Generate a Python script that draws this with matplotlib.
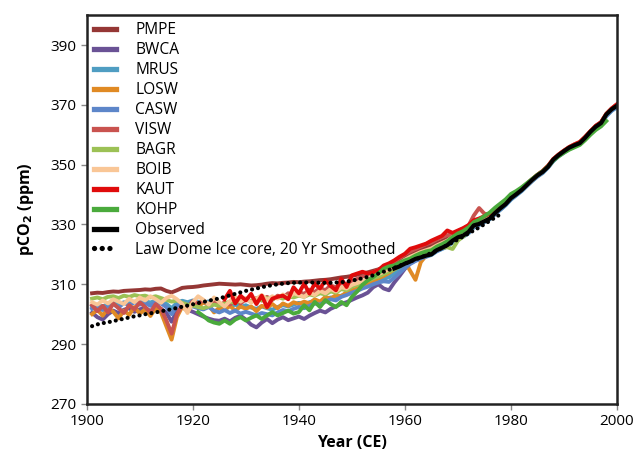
import numpy as np
import matplotlib
matplotlib.use("Agg")
import matplotlib.pyplot as plt

plt.rcParams['font.family'] = ['Open Sans', 'DejaVu Sans']

years = list(range(1901, 2001))
nan = float('nan')

PMPE = [307.0, 307.2, 307.1, 307.4, 307.6, 307.5, 307.8, 307.9, 308.0, 308.1,
        308.3, 308.2, 308.5, 308.6, 307.8, 307.3, 308.0, 308.8, 309.0, 309.1,
        309.3, 309.6, 309.8, 310.0, 310.2, 310.1, 310.0, 309.9, 310.0, 309.8,
        309.6, 309.7, 309.9, 310.2, 310.4, 310.3, 310.5, 310.6, 310.8, 310.7,
        310.9, 311.0, 311.2, 311.4, 311.5, 311.7, 312.0, 312.3, 312.5, 312.8,
        313.2, 313.6, 314.0, 314.5, 315.0, 315.7, 316.5, 317.3, 318.2, 319.0,
        320.0, 320.8, 321.5, 322.3, 323.0, 323.8, 324.5, 325.3, 326.5, 327.4,
        328.2, 329.1, 330.4, 331.2, 332.1, 333.0, 334.4, 335.8, 337.2, 338.9,
        340.3, 341.6, 343.2, 344.8, 346.3, 347.7, 349.4, 351.5, 353.1, 354.4,
        355.6, 356.6, 357.4, 359.1, 360.9, 362.8, 364.0, 366.6, 368.4, 370.0]

BWCA = [300.5, 299.0, 298.2, 300.0, 301.2, 300.4, 301.5, 302.0, 300.8, 301.6,
        302.2, 301.0, 302.5, 301.8, 300.5, 297.5, 301.0, 302.3, 301.5, 300.8,
        300.0, 299.2, 298.5, 298.0, 297.8, 298.5, 297.6, 298.8, 299.5, 298.2,
        296.5, 295.6, 297.2, 298.4, 297.0, 298.2, 299.0, 298.0, 298.6, 299.2,
        298.4, 299.5, 300.4, 301.2, 300.6, 301.8, 302.6, 303.5, 304.0, 304.8,
        305.6, 306.3, 307.2, 309.0, 310.0, 308.6, 308.0, 310.6, 312.8, 315.2,
        317.0, 318.0, 318.8, 319.5, 320.2, 321.3, 322.0, 323.0, 324.2, 325.3,
        326.2, 327.4, 329.2, 330.0, 331.0, 332.0, 333.6, 335.0, 336.6, 338.5,
        340.0, 341.4, 343.0, 344.6, 346.2, 347.5, 349.2, 351.4, 353.0, 354.3,
        355.5, 356.4, 357.2, 358.8, 360.8, 362.5, 363.8, 366.5, 368.3, 369.6]

MRUS = [302.5, 303.0, 302.6, 303.4, 303.8, 303.2, 304.0, 303.6, 304.2, 303.8,
        304.4, 303.9, 304.6, 304.2, 303.5, 302.0, 303.8, 304.5, 304.0, 304.6,
        304.2, 303.8, 304.3, 303.6, 302.8, 303.5, 302.6, 303.2, 302.4, 303.0,
        302.2, 301.8, 302.6, 302.0, 301.5, 302.4, 303.0, 302.6, 303.2, 303.8,
        303.2, 304.0, 304.5, 304.0, 305.0, 305.6, 305.2, 306.2, 306.8, 307.5,
        308.2, 309.0, 309.6, 310.4, 311.0, 311.8, 312.4, 313.6, 314.8, 316.0,
        317.2, 318.0, 318.6, 319.2, 319.8, 321.0, 321.8, 322.6, 324.0, 325.0,
        325.9, 327.0, 329.0, 329.8, 330.8, 331.7, 333.4, 334.9, 336.4, 338.3,
        339.7, 341.1, 342.8, 344.5, 346.0, 347.2, 349.0, 351.2, 352.8, 354.0,
        355.2, 356.1, 356.9, 358.6, 360.5, 362.2, 363.4, 366.2, 368.0, 369.2]

LOSW = [300.0, 301.5, 299.5, 302.0, 300.8, 298.6, 301.2, 299.8, 302.4, 300.2,
        301.6, 299.4, 302.0, 300.6, 296.0, 291.5, 299.0, 302.5, 301.0, 303.2,
        302.4, 304.0, 303.0, 300.6, 302.2, 301.4, 302.8, 301.2, 302.6, 301.8,
        302.6, 301.0, 302.8, 302.2, 303.4, 302.0, 303.6, 302.8, 304.0, 303.4,
        304.2, 303.6, 305.0, 304.2, 305.8, 305.2, 306.4, 306.0, 307.4, 308.0,
        308.6, 309.4, 310.2, 311.0, 312.0, 312.8, 313.8, 315.0, 316.4, 317.6,
        314.5, 311.5, 317.4, 319.6, 320.4, 321.6, 322.4, 323.4, 324.8, 325.8,
        326.6, 327.8, 329.8, 330.4, 331.4, 332.3, 334.0, 335.6, 337.0, 338.8,
        340.2, 341.5, 343.1, 344.8, 346.3, 347.6, 349.3, 351.6, 353.1, 354.4,
        355.6, 356.5, 357.3, 359.0, 360.9, 362.7, 363.9, 366.8, 368.5, 369.8]

CASW = [301.8, 302.6, 301.4, 302.8, 303.4, 302.2, 303.8, 303.0, 304.0, 303.2,
        303.8, 302.8, 304.2, 303.6, 302.4, 300.0, 302.8, 303.8, 303.2, 302.6,
        302.0, 301.6, 302.4, 301.2, 300.6, 301.4, 300.4, 301.2, 300.2, 300.8,
        300.2, 299.6, 300.4, 300.0, 299.6, 300.6, 301.4, 301.0, 301.8, 302.4,
        302.0, 302.8, 303.6, 303.2, 304.2, 305.0, 304.6, 305.8, 306.4, 307.2,
        307.8, 308.6, 309.2, 310.0, 310.6, 311.0, 310.8, 312.2, 313.8, 315.4,
        316.8, 317.8, 318.6, 319.3, 320.0, 321.1, 321.9, 322.8, 324.3, 325.3,
        326.1, 327.2, 329.3, 330.0, 331.0, 331.9, 333.6, 335.1, 336.6, 338.5,
        339.9, 341.3, 343.0, 344.7, 346.1, 347.4, 349.1, 351.4, 353.0, 354.2,
        355.4, 356.3, 357.0, 358.8, 360.7, 362.4, 363.6, 366.4, 368.1, 369.4]

VISW = [303.0, 301.0, 302.8, 300.6, 303.6, 302.0, 300.4, 303.0, 301.6, 304.0,
        302.4, 300.6, 303.4, 301.8, 298.0, 293.5, 300.0, 303.0, 302.2, 304.4,
        303.6, 304.6, 303.0, 304.2, 302.8, 304.0, 303.2, 304.8, 303.6, 305.0,
        304.2, 305.4, 304.6, 305.8, 304.8, 306.2, 305.6, 307.0, 306.4, 307.4,
        306.8, 308.2, 307.4, 308.8, 308.0, 309.6, 309.0, 310.4, 310.0, 311.2,
        311.8, 312.6, 313.4, 314.0, 314.8, 315.6, 316.6, 317.6, 318.8, 320.0,
        321.0, 321.8, 322.6, 323.4, 324.0, 325.0, 325.8, 326.4, 326.8, 327.8,
        328.6, 329.6, 333.0, 335.5, 333.6, 333.4, 335.0, 336.4, 337.8, 339.5,
        340.8, 342.0, 343.6, 345.2, 346.6, 347.9, 349.6, 351.9, 353.4, 354.7,
        355.9, 356.8, 357.6, 359.3, 361.2, 363.0, 364.2, 367.0, 368.8, 370.2]

BAGR = [305.2, 305.6, 305.0, 305.8, 306.0, 305.4, 306.2, 305.8, 306.4, 306.0,
        306.2, 305.6, 306.0, 305.4, 304.8, 304.2, 304.6, 303.8, 303.2, 302.8,
        302.4, 302.0, 302.6, 303.2, 302.8, 303.6, 304.2, 303.8, 304.6, 305.0,
        304.4, 305.2, 304.6, 305.4, 305.0, 305.8, 305.2, 306.0, 305.6, 306.2,
        305.8, 306.6, 306.2, 307.0, 306.6, 307.6, 307.2, 308.4, 308.0, 309.2,
        309.8, 310.6, 311.2, 312.0, 312.6, 313.4, 314.2, 315.0, 316.0, 317.0,
        318.0, 318.8, 319.4, 320.0, 320.4, 321.6, 322.2, 322.4, 321.8, 324.6,
        326.0, 327.6, 329.6, 330.6, 331.6, 332.6, 334.0, 335.6, 337.2, 339.0,
        340.4, 341.8, 343.4, 345.0, 346.6, 347.8, 349.5, 351.8, 353.3, 354.6,
        355.8, 356.7, 357.5, 359.2, 361.1, 362.9, 364.1, 367.0, 368.7, 370.0]

BOIB = [304.0, 303.2, 304.6, 303.6, 305.0, 304.2, 303.4, 305.2, 304.0, 305.6,
        304.6, 306.0, 305.0, 303.8, 305.4, 306.2, 305.0, 303.4, 300.4, 304.0,
        306.0, 304.8, 303.2, 305.6, 304.0, 302.6, 304.4, 305.8, 304.2, 305.4,
        303.8, 305.2, 306.4, 304.8, 306.0, 305.2, 306.6, 305.4, 307.0, 306.4,
        305.8, 307.2, 306.4, 307.8, 307.0, 308.4, 307.6, 309.0, 308.6, 309.8,
        310.4, 311.2, 311.8, 312.6, 313.4, 314.2, 315.0, 316.0, 317.0, 318.2,
        319.2, 320.0, 320.8, 321.4, 322.0, 323.0, 323.8, 324.6, 325.8, 326.8,
        327.6, 328.6, 330.6, 331.2, 332.2, 333.0, 334.6, 336.0, 337.4, 339.2,
        340.5, 341.8, 343.4, 345.0, 346.5, 347.8, 349.5, 351.8, 353.3, 354.6,
        355.8, 356.7, 357.4, 359.2, 361.0, 362.8, 364.0, 366.9, 368.6, 370.1]

KAUT = [nan] * 25 + [
        305.0, 307.8, 303.6, 306.2, 304.6,
        306.8, 303.4, 306.2, 302.4, 305.2, 305.8, 306.2, 305.0, 309.0, 307.0,
        310.2, 306.9, 310.2, 308.6, 311.3, 309.4, 308.0, 311.9, 309.1, 313.0,
        313.6, 314.2, 313.6, 314.0, 314.7, 316.3, 317.0, 318.0, 319.2, 320.2,
        321.9, 322.4, 323.0, 323.6, 324.6, 325.4, 326.2, 328.0, 327.2, 328.0,
        328.8, 329.8, 331.4, 332.0, 332.8, 333.6, 335.0, 336.4, 337.8, 339.4,
        340.6, 341.9, 343.5, 345.1, 346.6, 347.9, 349.6, 351.9, 353.4, 354.7,
        355.9, 356.8, 357.6, 359.3, 361.2, 363.0, 364.2, 367.0, 368.8, 370.2]

KOHP = [nan] * 20 + [
        300.7, 299.4, 297.9, 297.2, 296.8, 297.9, 296.8, 298.2, 299.0, 297.9,
        298.8, 299.6, 298.4, 299.6, 300.7, 299.6, 300.4, 301.2, 300.2, 300.7,
        303.0, 301.3, 304.1, 302.4, 304.7, 303.4, 302.4, 304.1, 303.0, 305.8,
        307.6, 309.8, 311.3, 312.4, 313.6, 315.2, 316.0, 316.3, 317.2, 318.0,
        318.6, 319.6, 320.4, 321.0, 321.4, 322.6, 323.4, 324.4, 325.8, 327.0,
        327.8, 329.0, 330.8, 331.6, 332.8, 334.0, 335.6, 337.0, 338.4, 340.2,
        341.2, 342.4, 343.8, 345.2, 346.6, 347.8, 349.4, 351.4, 352.8, 354.0,
        355.0, 355.8, 356.6, 358.2, 360.0, 361.6, 362.8, 364.6, nan, nan]

obs_years = list(range(1958, 2001))
Observed = [315.3, 316.0, 316.9, 317.6, 318.5, 319.0, 319.6, 320.0, 321.4, 322.2,
            323.1, 324.6, 325.7, 326.3, 327.5, 329.7, 330.2, 331.1, 332.0, 333.8,
            335.4, 336.8, 338.8, 340.1, 341.5, 343.2, 344.9, 346.4, 347.6, 349.3,
            351.7, 353.2, 354.5, 355.7, 356.5, 357.2, 359.0, 361.0, 362.7, 363.9,
            366.8, 368.5, 369.7]

ld_years = list(range(1901, 1979))
LawDome = [296.0, 296.6, 297.0, 297.3, 297.7, 298.1, 298.5, 298.9, 299.3, 299.6,
           300.0, 300.3, 300.6, 301.0, 301.3, 301.7, 302.1, 302.5, 302.9, 303.3,
           303.7, 304.1, 304.5, 304.9, 305.3, 305.8, 306.3, 306.8, 307.3, 307.8,
           308.2, 308.6, 309.0, 309.4, 309.7, 310.0, 310.2, 310.4, 310.5, 310.6,
           310.6, 310.6, 310.6, 310.5, 310.5, 310.5, 310.6, 310.7, 310.9, 311.2,
           311.6, 312.0, 312.5, 313.0, 313.6, 314.2, 314.8, 315.5, 316.2, 316.9,
           317.6, 318.3, 319.0, 319.7, 320.5, 321.3, 322.2, 323.1, 324.0, 325.0,
           326.0, 327.0, 328.0, 329.0, 330.1, 331.2, 332.3, 333.4]

series = [
    ("PMPE", PMPE, "#953735"),
    ("BWCA", BWCA, "#6a5295"),
    ("MRUS", MRUS, "#4f9dc2"),
    ("LOSW", LOSW, "#e08a24"),
    ("CASW", CASW, "#5d86c9"),
    ("VISW", VISW, "#c9534f"),
    ("BAGR", BAGR, "#9cc155"),
    ("BOIB", BOIB, "#f9c696"),
    ("KAUT", KAUT, "#e00b0b"),
    ("KOHP", KOHP, "#4aaa3c"),
]

fig = plt.figure(figsize=(6.38, 4.59), dpi=100)
ax = fig.add_axes([0.136, 0.120, 0.831, 0.847])

for name, vals, col in series:
    ax.plot(years, vals, color=col, lw=2.8, label=name, solid_joinstyle='round')
ax.plot(obs_years, Observed, color='black', lw=3.0, label='Observed')
ax.plot(ld_years, LawDome, color='black', lw=3.0, linestyle=(0, (0.01, 1.45)),
        dash_capstyle='round', label='Law Dome Ice core, 20 Yr Smoothed')

ax.set_xlim(1900, 2000)
ax.set_ylim(270, 400)
ax.set_xticks(range(1900, 2001, 20))
ax.set_yticks(range(270, 391, 20))
ax.tick_params(axis='both', labelsize=11, length=4, width=1, color='#888888', direction='out')
for sp in ax.spines.values():
    sp.set_linewidth(1.8)
    sp.set_color('#222222')

ax.set_xlabel('Year (CE)', fontsize=11.5, fontweight='bold', labelpad=4)
ax.set_ylabel('pCO$_\\mathbf{2}$ (ppm)', fontsize=11.5, fontweight='bold', labelpad=10)

leg = ax.legend(loc='upper left', frameon=False, fontsize=11.2, handlelength=1.45,
                handletextpad=1.2, labelspacing=0.255, borderaxespad=0.34,
                borderpad=0.12)
for h in leg.get_lines():
    h.set_linewidth(3.8)

fig.savefig('out.png', dpi=100)
